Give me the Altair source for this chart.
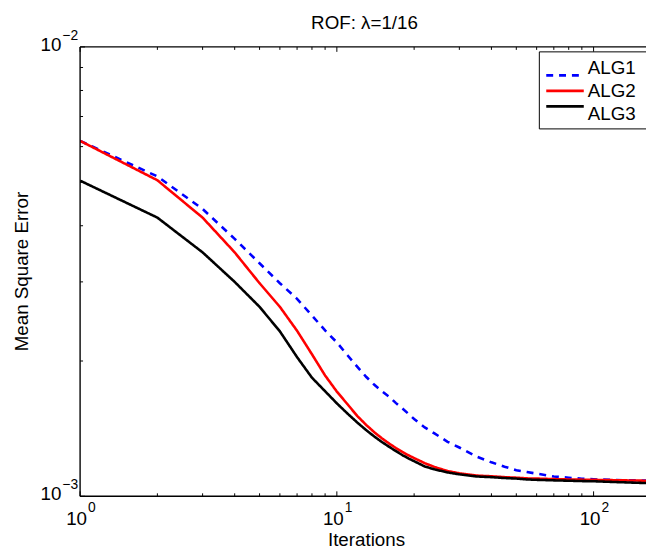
import altair as alt
import pandas as pd

# ---- data ----
iterations = [1, 2, 3, 4, 5, 6, 7, 8, 9, 10, 11, 12, 13, 14, 15, 16, 17, 18, 19, 20,
              22, 24, 27, 30, 35, 40, 45, 50, 55, 60, 70, 80, 90, 100, 120, 160]
alg1 = [0.00618, 0.00515, 0.00436, 0.00374, 0.00330, 0.00298, 0.00275, 0.002525, 0.00234, 0.00220,
        0.00206, 0.001944, 0.001845, 0.00177, 0.001713, 0.001665, 0.001612, 0.001568, 0.001526, 0.001486,
        0.001423, 0.00138, 0.001322, 0.001284, 0.001226, 0.00119, 0.001164, 0.001143, 0.001132, 0.001123,
        0.001107, 0.00110, 0.001094, 0.001091, 0.001087, 0.001084]
alg2 = [0.00618, 0.00505, 0.00417, 0.00349, 0.00298, 0.00264, 0.002335, 0.00207, 0.001857, 0.00171,
        0.001603, 0.00151, 0.001442, 0.001388, 0.001345, 0.00131, 0.00128, 0.001255, 0.001234, 0.001216,
        0.001185, 0.001162, 0.001138, 0.001125, 0.001112, 0.001108, 0.001103, 0.00110, 0.001096, 0.001095,
        0.001092, 0.00109, 0.001089, 0.001088, 0.001086, 0.001083]
alg3 = [0.00504, 0.00417, 0.00349, 0.00300, 0.00264, 0.002328, 0.00204, 0.001836, 0.001713, 0.00161,
        0.001528, 0.00146, 0.001404, 0.001358, 0.00132, 0.001288, 0.00126, 0.001235, 0.001214, 0.001197,
        0.001165, 0.001148, 0.00113, 0.001119, 0.001107, 0.001103, 0.001098, 0.001095, 0.00109, 0.001088,
        0.001085, 0.001083, 0.001081, 0.00108, 0.001076, 0.00107]
series_names = ["ALG1", "ALG2", "ALG3"]
series_colors = ["#0000ff", "#ff0000", "#000000"]

x_major = [1, 10, 100]
x_major_exp = ["0", "1", "2"]
x_minor = [2, 3, 4, 5, 6, 7, 8, 9, 20, 30, 40, 50, 60, 70, 80, 90]
y_major = [0.001, 0.01]
y_major_exp = ["\u22123", "\u22122"]
y_minor = [0.002, 0.003, 0.004, 0.005, 0.006, 0.007, 0.008, 0.009]

title_text = "ROF: \u03bb=1/16"
x_title = "Iterations"
y_title = "Mean Square Error"

# ---- build tables ----
rows = []
for name, vals in zip(series_names, [alg1, alg2, alg3]):
    for it, v in zip(iterations, vals):
        rows.append({"iter": it, "mse": v, "alg": name})
df = pd.DataFrame(rows)
xmaj = pd.DataFrame({"v": x_major, "e": x_major_exp})
xmin = pd.DataFrame({"v": x_minor})
ymaj = pd.DataFrame({"v": y_major, "e": y_major_exp})
ymin = pd.DataFrame({"v": y_minor})
leg = pd.DataFrame({"alg": series_names})
one = pd.DataFrame({"a": [0]})

W, H = 573, 455
FONT = "Liberation Sans"
FS = 19

xs = alt.Scale(type="log", domain=[1, 160], nice=False)
ys = alt.Scale(type="log", domain=[0.001, 0.01], nice=False)
cs = alt.Scale(domain=series_names, range=series_colors)
ds = alt.Scale(domain=series_names, range=[[7, 6], [1, 0], [1, 0]])

X = lambda f: alt.X(f, type="quantitative", scale=xs, axis=None)
Y = lambda f: alt.Y(f, type="quantitative", scale=ys, axis=None)

lines = alt.Chart(df).mark_line(strokeWidth=2.6, clip=True).encode(
    x=X("iter"), y=Y("mse"),
    color=alt.Color("alg:N", scale=cs, legend=None),
    strokeDash=alt.StrokeDash("alg:N", scale=ds, legend=None),
)

tick_style = dict(color="black", strokeWidth=1)
MAJ, MIN = 5, 3
bt_maj = alt.Chart(xmaj).mark_rule(**tick_style).encode(x=X("v"), y=alt.value(H), y2=alt.value(H - MAJ))
bt_min = alt.Chart(xmin).mark_rule(**tick_style).encode(x=X("v"), y=alt.value(H), y2=alt.value(H - MIN))
tt_maj = alt.Chart(xmaj).mark_rule(**tick_style).encode(x=X("v"), y=alt.value(0), y2=alt.value(MAJ))
tt_min = alt.Chart(xmin).mark_rule(**tick_style).encode(x=X("v"), y=alt.value(0), y2=alt.value(MIN))
lt_maj = alt.Chart(ymaj).mark_rule(**tick_style).encode(y=Y("v"), x=alt.value(0), x2=alt.value(MAJ))
lt_min = alt.Chart(ymin).mark_rule(**tick_style).encode(y=Y("v"), x=alt.value(0), x2=alt.value(MIN))

frame_style = dict(color="black", strokeWidth=1.4)
f_left = alt.Chart(one).mark_rule(**frame_style).encode(x=alt.value(0), y=alt.value(0), y2=alt.value(H))
f_top = alt.Chart(one).mark_rule(**frame_style).encode(x=alt.value(0), x2=alt.value(W + 10), y=alt.value(0))
f_bot = alt.Chart(one).mark_rule(**frame_style).encode(x=alt.value(0), x2=alt.value(W + 10), y=alt.value(H))

txt = dict(font=FONT, color="black")
xl_base = alt.Chart(xmaj).mark_text(align="right", baseline="middle", fontSize=FS, dx=7, **txt).encode(
    x=X("v"), y=alt.value(H + 23), text=alt.value("10"))
xl_exp = alt.Chart(xmaj).mark_text(align="left", baseline="middle", fontSize=14, dx=8, **txt).encode(
    x=X("v"), y=alt.value(H + 12), text="e:N")
yl_base = alt.Chart(ymaj).mark_text(align="right", baseline="middle", fontSize=FS, dy=-2, **txt).encode(
    y=Y("v"), x=alt.value(-19), text=alt.value("10"))
yl_exp = alt.Chart(ymaj).mark_text(align="left", baseline="middle", fontSize=14, dy=-11, **txt).encode(
    y=Y("v"), x=alt.value(-18), text="e:N")

x_lab = alt.Chart(one).mark_text(align="center", baseline="middle", fontSize=FS, **txt).encode(
    x=alt.value(290), y=alt.value(H + 44), text=alt.value(x_title))
y_lab = alt.Chart(one).mark_text(align="center", baseline="middle", fontSize=FS, angle=270, **txt).encode(
    x=alt.value(-59), y=alt.value(H / 2), text=alt.value(y_title))
ttl = alt.Chart(one).mark_text(align="center", baseline="middle", fontSize=FS, **txt).encode(
    x=alt.value(288), y=alt.value(-24), text=alt.value(title_text))

ly = alt.Scale(domain=series_names, range=[21, 68], padding=0)
leg_box = alt.Chart(one).mark_rect(fill="white", stroke="black", strokeWidth=1).encode(
    x=alt.value(465), x2=alt.value(620), y=alt.value(5), y2=alt.value(83))
leg_lines = alt.Chart(leg).mark_rule(strokeWidth=2.6).encode(
    x=alt.value(472), x2=alt.value(510),
    y=alt.Y("alg:N", scale=ly, axis=None),
    color=alt.Color("alg:N", scale=cs, legend=None),
    strokeDash=alt.StrokeDash("alg:N", scale=ds, legend=None))
leg_text = alt.Chart(leg).mark_text(align="left", baseline="middle", fontSize=FS, **txt).encode(
    x=alt.value(514), y=alt.Y("alg:N", scale=ly, axis=None), text="alg:N")

chart = alt.layer(
    lines, bt_maj, bt_min, tt_maj, tt_min, lt_maj, lt_min,
    f_left, f_top, f_bot,
    xl_base, xl_exp, yl_base, yl_exp, x_lab, y_lab, ttl,
    leg_box, leg_lines, leg_text,
).resolve_scale(y="independent").properties(
    width=W, height=H,
    autosize=alt.AutoSizeParams(type="none"),
    padding={"left": 73, "top": 36, "right": 0, "bottom": 53},
    background="white",
).configure_view(strokeWidth=0)

chart.save("out.html", embed_options={"renderer": "svg", "actions": False})
